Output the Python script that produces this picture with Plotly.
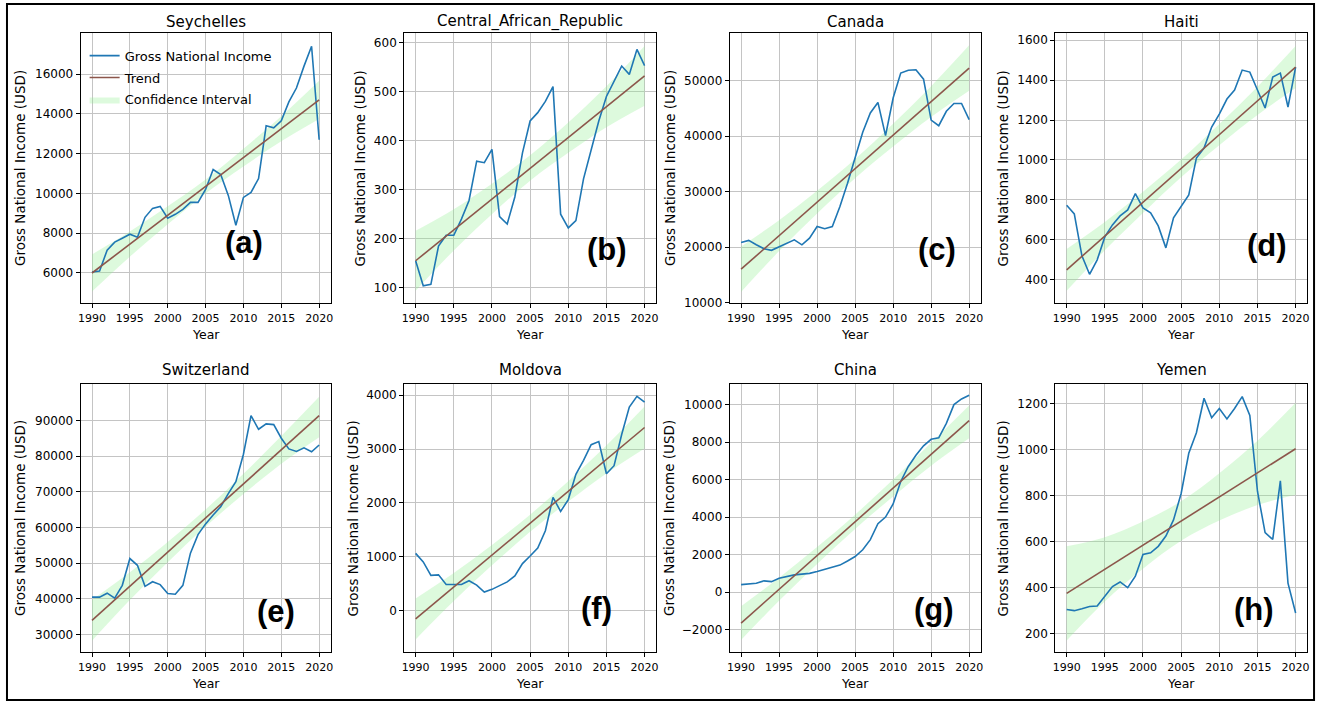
import plotly.graph_objects as go

# ---------------- data ----------------
years = list(range(1990, 2021))
ci_years = [1990, 1995, 2000, 2005, 2010, 2015, 2020]
trend_years = [1990, 2020]

countries = ["Seychelles", "Central_African_Republic", "Canada", "Haiti",
             "Switzerland", "Moldova", "China", "Yemen"]
panel_letters = ["(a)", "(b)", "(c)", "(d)", "(e)", "(f)", "(g)", "(h)"]

gni_seychelles = [6050, 6100, 7150, 7550, 7750, 7950, 7800, 8800, 9250, 9350,
                  8750, 8950, 9200, 9550, 9550, 10200, 11200, 10950, 9900, 8400,
                  9800, 10050, 10750, 13400, 13300, 13650, 14600, 15300, 16400, 17400,
                  12700]
gni_car = [155, 104, 107, 185, 207, 207, 240, 278, 358, 355,
           382, 245, 230, 285, 375, 440, 457, 480, 510, 250,
           222, 237, 322, 380, 440, 490, 522, 552, 535, 586,
           553]
gni_canada = [20800, 21200, 20400, 19700, 19400, 20000, 20700, 21300, 20400, 21600,
              23700, 23300, 23700, 27300, 31500, 36200, 40700, 44200, 46100, 40100,
              46900, 51400, 51900, 52000, 50300, 42900, 41900, 44500, 45900, 45900,
              43000]
gni_haiti = [773, 730, 520, 428, 500, 615, 675, 720, 750, 832,
             760, 735, 670, 560, 710, 765, 825, 1010, 1060, 1165,
             1230, 1305, 1350, 1450, 1440, 1350, 1260, 1415, 1435, 1265,
             1465]
gni_switzerland = [40500, 40500, 41600, 40200, 43800, 51300, 49400, 43500, 44800, 44000,
                   41500, 41300, 43800, 52800, 58000, 61000, 63500, 65800, 69500, 72800,
                   80500, 91300, 87500, 89000, 88800, 85000, 82000, 81300, 82300, 81200,
                   83100]
gni_moldova = [1060, 900, 650, 660, 480, 480, 480, 550, 470, 340,
               390, 460, 530, 640, 870, 1010, 1160, 1480, 2100, 1840,
               2060, 2530, 2790, 3080, 3140, 2540, 2690, 3270, 3780, 3980,
               3870]
gni_china = [400, 420, 470, 600, 560, 740, 840, 920, 960, 1000,
             1100, 1200, 1300, 1440, 1660, 1900, 2260, 2800, 3650, 4000,
             4700, 5900, 6700, 7300, 7800, 8150, 8230, 9000, 10000, 10300,
             10500]
gni_yemen = [305, 300, 308, 318, 320, 360, 405, 425, 400, 450,
             545, 552, 580, 625, 695, 810, 985, 1075, 1225, 1140,
             1180, 1135, 1180, 1232, 1150, 820, 640, 610, 865, 420,
             290]

trend_seychelles = [6000, 14700]
trend_car = [155, 532]
trend_canada = [16000, 52300]
trend_haiti = [450, 1465]
trend_switzerland = [34000, 91300]
trend_moldova = [-160, 3400]
trend_china = [-1650, 9150]
trend_yemen = [375, 1005]

ci_lo_seychelles = [5070, 6820, 8450, 10000, 11350, 12620, 13740]
ci_hi_seychelles = [6930, 8080, 9350, 10700, 12250, 13880, 15660]
ci_lo_car = [94, 176, 250, 318, 375, 427, 471]
ci_hi_car = [216, 260, 312, 370, 437, 511, 593]
ci_lo_canada = [11900, 19260, 26050, 32430, 38150, 43460, 48200]
ci_hi_canada = [20100, 24840, 30150, 35870, 42250, 49040, 56400]
ci_lo_haiti = [345, 548, 735, 914, 1074, 1225, 1360]
ci_hi_haiti = [555, 690, 841, 1002, 1180, 1367, 1570]
ci_lo_switzerland = [28300, 39670, 50250, 60260, 69350, 77870, 85300]
ci_hi_switzerland = [39700, 47430, 55950, 65040, 75050, 85630, 96600]
ci_lo_moldova = [-540, 173, 837, 1460, 2023, 2547, 3010]
ci_hi_moldova = [220, 693, 1217, 1780, 2403, 3067, 3790]
ci_lo_china = [-2550, -460, 1500, 3370, 5100, 6740, 8200]
ci_hi_china = [-750, 760, 2400, 4130, 6000, 7960, 9950]
ci_lo_yemen = [170, 340, 482, 604, 692, 760, 805]
ci_hi_yemen = [580, 620, 688, 776, 898, 1040, 1205]

y_tick_vals = [
    [6000, 8000, 10000, 12000, 14000, 16000],
    [100, 200, 300, 400, 500, 600],
    [10000, 20000, 30000, 40000, 50000],
    [400, 600, 800, 1000, 1200, 1400, 1600],
    [30000, 40000, 50000, 60000, 70000, 80000, 90000],
    [0, 1000, 2000, 3000, 4000],
    [-2000, 0, 2000, 4000, 6000, 8000, 10000],
    [200, 400, 600, 800, 1000, 1200],
]
x_tick_vals = [1990, 1995, 2000, 2005, 2010, 2015, 2020]

gni_all = [gni_seychelles, gni_car, gni_canada, gni_haiti,
           gni_switzerland, gni_moldova, gni_china, gni_yemen]
trend_all = [trend_seychelles, trend_car, trend_canada, trend_haiti,
             trend_switzerland, trend_moldova, trend_china, trend_yemen]
ci_lo_all = [ci_lo_seychelles, ci_lo_car, ci_lo_canada, ci_lo_haiti,
             ci_lo_switzerland, ci_lo_moldova, ci_lo_china, ci_lo_yemen]
ci_hi_all = [ci_hi_seychelles, ci_hi_car, ci_hi_canada, ci_hi_haiti,
             ci_hi_switzerland, ci_hi_moldova, ci_hi_china, ci_hi_yemen]

# ---------------- layout (pixel geometry) ----------------
W, H = 1325, 712
col_px = [(78, 329), (403, 656), (730, 982), (1057, 1310)]
row_px = [(33, 306), (387, 658)]
y_ranges = [[4470, 18080], [68, 620], [9820, 58680], [282, 1637],
            [25000, 100250], [-783, 4214], [-3218, 11112], [118, 1288]]
x_range = [1988.5, 2021.5]
ylabel_x_px = [17, 359, 670, 1005, 17, 352, 669, 1005]
title_y_px = [22, 373]
letter_px = [(242, 245), (607, 252), (938, 252), (1270, 248),
             (274, 617), (596, 614), (935, 615), (1257, 615)]


def px_x(p):
    return p / W


def px_y(p):
    return 1 - p / H


FONT = "DejaVu Sans"
BLUE = "#1f77b4"
BROWN = "#8c564b"
BAND = "rgba(144,238,144,0.3)"

fig = go.Figure()
annotations = []

for i, name in enumerate(countries):
    r, c = divmod(i, 4)
    sfx = "" if i == 0 else str(i + 1)
    xa, ya = "x" + sfx, "y" + sfx
    show = (i == 0)

    fig.add_trace(go.Scatter(x=ci_years, y=ci_lo_all[i], mode="lines",
                             line=dict(width=0, shape="spline", color=BAND),
                             showlegend=False, hoverinfo="skip",
                             legendgroup="ci", xaxis=xa, yaxis=ya))
    fig.add_trace(go.Scatter(x=ci_years, y=ci_hi_all[i], mode="lines",
                             line=dict(width=0, shape="spline", color=BAND),
                             fill="tonexty", fillcolor=BAND,
                             name="Confidence Interval", legendrank=3,
                             legendgroup="ci",
                             showlegend=show, xaxis=xa, yaxis=ya))
    fig.add_trace(go.Scatter(x=years, y=gni_all[i], mode="lines",
                             line=dict(color=BLUE, width=1.6),
                             name="Gross National Income", legendrank=1,
                             legendgroup="gni",
                             showlegend=show, xaxis=xa, yaxis=ya))
    fig.add_trace(go.Scatter(x=trend_years, y=trend_all[i], mode="lines",
                             line=dict(color=BROWN, width=1.6),
                             name="Trend", legendrank=2,
                             legendgroup="trend",
                             showlegend=show, xaxis=xa, yaxis=ya))

    x0, x1 = col_px[c]
    y0, y1 = row_px[r]
    common = dict(showline=True, mirror=True, linecolor="black", linewidth=1,
                  showgrid=True, gridcolor="#c4c4c4", gridwidth=1,
                  ticks="outside", ticklen=4, tickcolor="black",
                  zeroline=False, tickformat="d")
    fig.layout["xaxis" + sfx] = dict(
        common, domain=[px_x(x0), px_x(x1)], anchor=ya, range=x_range,
        tickvals=x_tick_vals, tickfont=dict(family=FONT, size=11, color="black"))
    fig.layout["yaxis" + sfx] = dict(
        common, domain=[px_y(y1), px_y(y0)], anchor=xa, range=y_ranges[i],
        tickvals=y_tick_vals[i], tickfont=dict(family=FONT, size=12, color="black"))

    cx = px_x((x0 + x1) / 2)
    annotations.append(dict(text=name, x=cx, y=px_y(title_y_px[r]),
                            xref="paper", yref="paper", showarrow=False,
                            xanchor="center", yanchor="middle",
                            font=dict(family=FONT, size=15, color="black")))
    annotations.append(dict(text="Year", x=cx, y=px_y(y1 + 31),
                            xref="paper", yref="paper", showarrow=False,
                            xanchor="center", yanchor="middle",
                            font=dict(family=FONT, size=12.5, color="black")))
    annotations.append(dict(text="Gross National Income (USD)",
                            x=px_x(ylabel_x_px[i]), y=px_y((y0 + y1) / 2),
                            xref="paper", yref="paper", showarrow=False,
                            textangle=-90, xanchor="center", yanchor="middle",
                            font=dict(family=FONT, size=13.5, color="black")))
    lx, ly = letter_px[i]
    annotations.append(dict(text="<b>" + panel_letters[i] + "</b>",
                            x=px_x(lx), y=px_y(ly),
                            xref="paper", yref="paper", showarrow=False,
                            xanchor="center", yanchor="middle",
                            font=dict(family="Liberation Sans", size=31, color="black")))

fig.update_layout(
    width=W, height=H,
    margin=dict(l=0, r=0, t=0, b=0),
    paper_bgcolor="white", plot_bgcolor="white",
    annotations=annotations,
    legend=dict(x=px_x(82), y=px_y(41), xanchor="left", yanchor="top",
                traceorder="grouped", tracegroupgap=2,
                bgcolor="rgba(255,255,255,0)", borderwidth=0,
                font=dict(family=FONT, size=13, color="black")),
    shapes=[dict(type="rect", xref="paper", yref="paper",
                 x0=px_x(4), x1=px_x(1317), y0=px_y(706), y1=px_y(4),
                 line=dict(color="black", width=2))],
)

page_fix = (
    "var d=document.documentElement, b=document.body;"
    "d.style.margin='0'; d.style.padding='0'; d.style.overflow='hidden';"
    "b.style.margin='0'; b.style.padding='0'; b.style.overflow='hidden';"
    "var gd=document.getElementById('{plot_id}');"
    "if(gd && window.innerWidth>0 && window.innerHeight>0){"
    "Plotly.relayout(gd,{width:window.innerWidth,height:window.innerHeight});}"
)

fig.write_html("out.html",
               config={"displayModeBar": False, "staticPlot": True},
               post_script=page_fix)
